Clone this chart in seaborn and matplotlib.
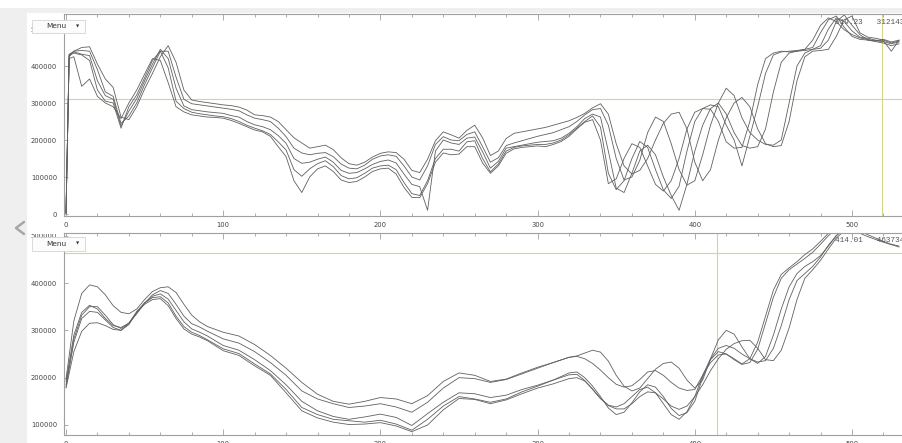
import numpy as np
import pandas as pd
import matplotlib
matplotlib.use("Agg")
import matplotlib.pyplot as plt
import seaborn as sns
from matplotlib.lines import Line2D
from matplotlib.patches import Rectangle
from matplotlib.ticker import MultipleLocator, FuncFormatter

W, H = 902, 443

# sample positions along x
X_TOP = [0, 2] + list(range(5, 535, 5))
X_BOT = list(range(0, 95, 5)) + list(range(100, 330, 10)) + list(range(325, 535, 5))

# top panel series, values in thousands
TOP_1 = [2, 425,
         440, 450, 452, 405, 365, 342, 262, 255, 290, 338,
         380, 425, 455, 410, 335, 308, 304, 301, 298, 295,
         293, 289, 281, 268, 266, 262, 250, 228, 206, 192,
         178, 182, 186, 174, 152, 136, 132, 140, 154, 164,
         168, 166, 148, 118, 112, 148, 198, 222, 214, 205,
         226, 240, 206, 158, 170, 204, 218, 222, 226, 230,
         234, 240, 246, 252, 261, 272, 287, 298, 270, 190,
         130, 108, 118, 150, 200, 245, 270, 275, 230, 140,
         90, 120, 200, 260, 300, 315, 290, 230, 190, 182,
         185, 250, 360, 425, 440, 442, 445, 480, 525, 535,
         490, 478, 475, 470, 462, 468]
TOP_2 = [2, 430,
         440, 442, 440, 390, 330, 318, 245, 265, 300, 350,
         395, 440, 440, 370, 310, 298, 295, 292, 289, 286,
         283, 279, 268, 259, 255, 250, 232, 209, 178, 165,
         160, 164, 166, 155, 135, 124, 122, 132, 148, 157,
         160, 156, 130, 100, 92, 130, 188, 209, 200, 198,
         215, 222, 182, 140, 152, 185, 192, 198, 204, 210,
         215, 220, 228, 236, 250, 268, 282, 285, 240, 150,
         92, 100, 145, 220, 262, 250, 190, 120, 78, 90,
         160, 240, 300, 340, 320, 260, 220, 200, 188, 186,
         200, 300, 400, 435, 445, 448, 470, 520, 538, 510,
         485, 470, 468, 466, 460, 465]
TOP_3 = [2, 432,
         438, 432, 428, 360, 320, 310, 238, 278, 312, 360,
         405, 445, 420, 340, 292, 282, 279, 276, 274, 272,
         266, 262, 250, 241, 236, 228, 212, 191, 150, 137,
         140, 148, 154, 140, 118, 110, 112, 122, 134, 142,
         146, 138, 108, 80, 74, 10, 170, 200, 192, 188,
         205, 208, 168, 124, 142, 178, 182, 186, 190, 194,
         196, 198, 205, 218, 236, 258, 270, 262, 170, 70,
         58, 110, 170, 186, 160, 100, 50, 10, 80, 170,
         240, 285, 300, 270, 220, 185, 178, 182, 230, 330,
         410, 435, 440, 442, 445, 455, 500, 530, 520, 495,
         478, 475, 470, 468, 440, 470]
TOP_4 = [2, 428,
         435, 430, 415, 335, 305, 300, 232, 290, 322, 368,
         415, 440, 395, 305, 285, 275, 271, 268, 265, 263,
         258, 250, 240, 232, 225, 215, 195, 173, 120, 102,
         122, 136, 144, 128, 104, 95, 98, 110, 124, 130,
         132, 120, 85, 55, 50, 90, 150, 175, 175, 170,
         195, 198, 150, 114, 135, 170, 180, 184, 186, 188,
         188, 192, 200, 214, 232, 250, 265, 235, 110, 66,
         90, 150, 196, 180, 120, 65, 42, 75, 170, 250,
         285, 295, 290, 240, 200, 130, 210, 290, 380, 430,
         438, 440, 442, 445, 450, 490, 525, 535, 505, 480,
         472, 470, 466, 462, 455, 460]
TOP_5 = [2, 420,
         425, 345, 365, 318, 300, 290, 258, 300, 335, 378,
         420, 415, 355, 290, 276, 268, 265, 262, 261, 259,
         253, 245, 236, 227, 222, 210, 182, 155, 90, 58,
         100, 122, 130, 115, 92, 85, 88, 100, 115, 122,
         124, 108, 72, 45, 44, 82, 140, 165, 160, 162,
         182, 182, 138, 110, 130, 164, 176, 180, 182, 184,
         182, 188, 196, 210, 230, 248, 255, 200, 82, 95,
         150, 190, 180, 130, 80, 62, 90, 150, 230, 275,
         285, 283, 250, 195, 178, 180, 250, 350, 420, 435,
         440, 438, 440, 445, 470, 510, 530, 520, 498, 485,
         476, 472, 468, 472, 465, 470]

# bottom panel series, values in thousands
BOT_1 = [197, 320, 378, 396, 392, 375, 352, 338, 335, 345, 365, 382, 390, 392, 380, 355, 332, 318, 308,
         296, 288, 270, 247, 220, 190, 165, 150, 144, 150, 158, 155, 145, 162, 192, 210, 205, 192, 197, 210, 222, 232, 243,
         246, 252, 258, 254, 235, 205, 182, 172, 178, 198, 218, 230, 233, 220, 195,
         178, 195, 240, 280, 300, 292, 265, 240, 230, 245, 290, 345, 392, 420, 435,
         445, 458, 478, 500, 515, 525, 530, 532, 530, 526, 520, 514]
BOT_2 = [192, 290, 338, 353, 345, 325, 310, 306, 315, 335, 357, 375, 384, 378, 355, 330, 314, 307, 298,
         282, 273, 255, 232, 205, 172, 155, 145, 137, 140, 145, 138, 127, 148, 178, 200, 198, 190, 196, 208, 220, 232, 243,
         245, 240, 230, 216, 200, 186, 180, 183, 196, 212, 215, 205, 190, 178, 173,
         175, 205, 232, 248, 250, 240, 229, 240, 275, 330, 385, 418, 432, 445, 460,
         472, 488, 505, 515, 518, 512, 505, 498, 492, 486, 481, 476]
BOT_3 = [185, 282, 332, 350, 350, 332, 312, 304, 315, 337, 358, 372, 377, 366, 342, 318, 303, 296, 288,
         268, 258, 238, 215, 185, 150, 130, 118, 112, 117, 123, 116, 99, 124, 148, 168, 166, 158, 163, 175, 184, 195, 210,
         212, 200, 182, 160, 136, 122, 127, 147, 170, 185, 180, 160, 135, 120, 126,
         150, 200, 238, 255, 250, 238, 228, 232, 260, 315, 370, 410, 428, 440, 452,
         465, 482, 500, 515, 528, 535, 538, 538, 535, 530, 525, 520]
BOT_4 = [180, 275, 325, 340, 338, 322, 306, 300, 315, 340, 358, 369, 371, 358, 330, 308, 296, 289, 280,
         261, 251, 229, 208, 175, 137, 122, 112, 109, 106, 110, 102, 89, 112, 140, 160, 155, 148, 155, 170, 182, 195, 206,
         207, 194, 175, 156, 142, 138, 145, 160, 175, 180, 168, 145, 122, 112, 128,
         160, 205, 240, 262, 268, 262, 250, 240, 233, 236, 262, 310, 365, 405, 420,
         435, 455, 480, 500, 515, 528, 535, 538, 536, 532, 528, 522]
BOT_5 = [178, 255, 298, 315, 316, 310, 302, 300, 312, 338, 355, 365, 367, 352, 325, 303, 292, 286, 278,
         257, 247, 225, 205, 168, 130, 115, 106, 101, 102, 105, 98, 86, 100, 132, 156, 154, 145, 153, 166, 178, 187, 198,
         200, 193, 176, 156, 141, 134, 134, 145, 160, 170, 168, 155, 140, 133, 140,
         160, 185, 215, 240, 260, 272, 278, 279, 262, 238, 236, 258, 305, 365, 410,
         428, 448, 472, 495, 510, 515, 510, 502, 495, 488, 482, 478]

CROSS_TOP = (519.23, 312143)
CROSS_BOT = (414.01, 463734)
LABEL_TOP = "519.23   312143"
LABEL_BOT = "414.01   463734"

LINE_COLOR = "#606060"
CROSS_COLOR = "#d6d68a"
AXIS_COLOR = "#a0a0a0"
TEXT_COLOR = "#444444"

sns.set_style("white")
plt.rcParams["font.family"] = ["DejaVu Sans"]

fig = plt.figure(figsize=(W / 100, H / 100), dpi=100)
fig.patch.set_facecolor("white")


def fx(px):
    return px / W


def fy(py):
    return 1 - py / H


def rect(left, top, right, bottom):
    return [fx(left), fy(bottom), (right - left) / W, (bottom - top) / H]


# window chrome behind the plots
fig.add_artist(Rectangle((0, 0), fx(27), fy(8), transform=fig.transFigure,
                         facecolor="#efefef", edgecolor="none", zorder=-5))
fig.add_artist(Rectangle((0, fy(13)), 1, 5 / H, transform=fig.transFigure,
                         facecolor="#efefef", edgecolor="none", zorder=-5))


def draw_panel(ax, x, lines, xlim, ylim, cross):
    df = pd.concat([pd.DataFrame({"x": x, "y": np.asarray(v) * 1000.0, "line": i})
                    for i, v in enumerate(lines)])
    ax.axhline(cross[1], color=CROSS_COLOR, lw=0.8, zorder=1)
    ax.axvline(cross[0], color=CROSS_COLOR, lw=0.8, zorder=1)
    sns.lineplot(data=df, x="x", y="y", units="line", estimator=None, color=LINE_COLOR,
                 linewidth=0.6, legend=False, ax=ax, zorder=2)
    ax.set_xlim(*xlim)
    ax.set_ylim(*ylim)
    ax.set_xlabel("")
    ax.set_ylabel("")
    ax.patch.set_alpha(0)
    ax.xaxis.set_major_locator(MultipleLocator(100))
    ax.xaxis.set_minor_locator(MultipleLocator(20))
    ax.yaxis.set_major_locator(MultipleLocator(100000))
    fmt = FuncFormatter(lambda v, p: f"{v:.0f}")
    ax.xaxis.set_major_formatter(fmt)
    ax.yaxis.set_major_formatter(fmt)
    for side in ["left", "bottom", "top"]:
        ax.spines[side].set_color(AXIS_COLOR)
        ax.spines[side].set_linewidth(0.8)
    ax.spines["right"].set_visible(False)
    ax.tick_params(axis="both", which="both", direction="in", colors=AXIS_COLOR,
                   labelcolor=TEXT_COLOR, labelsize=4.9, width=0.6)
    ax.tick_params(axis="x", which="major", length=4, pad=4.5, top=True, bottom=True)
    ax.tick_params(axis="x", which="minor", length=2.5, top=True, bottom=True)
    ax.tick_params(axis="y", which="major", length=3, pad=5, left=True, right=False)


ax_top = fig.add_axes(rect(64, 14, 912, 216))
ax_bot = fig.add_axes(rect(64, 233, 912, 435))

xlim = ((64 - 66) / 1.572, (912 - 66) / 1.572)
draw_panel(ax_top, X_TOP, [TOP_1, TOP_2, TOP_3, TOP_4, TOP_5], xlim,
           (-2 / 37 * 1e5, 200 / 37 * 1e5), CROSS_TOP)
draw_panel(ax_bot, X_BOT, [BOT_1, BOT_2, BOT_3, BOT_4, BOT_5], xlim,
           (100000 - 10 / 47.33 * 1e5, 400000 + 50 / 47.33 * 1e5), CROSS_BOT)

# coordinate read-outs
fig.text(fx(835), fy(23), LABEL_TOP, family="Liberation Mono", fontsize=5.6,
         color="#555555", va="center", ha="left")
fig.text(fx(835), fy(240), LABEL_BOT, family="Liberation Mono", fontsize=5.6,
         color="#555555", va="center", ha="left")

# strip that cuts the top of the lower panel's first label
fig.add_artist(Rectangle((fx(28), fy(233.5)), 34 / W, 5 / H, transform=fig.transFigure,
                         facecolor="white", edgecolor="none", zorder=8))


def menu_button(top, bottom):
    fig.add_artist(Rectangle((fx(32), fy(bottom)), 53 / W, (bottom - top) / H,
                             transform=fig.transFigure, facecolor="#fcfcfc",
                             edgecolor="#d4d4d4", lw=0.6, zorder=10))
    mid = (top + bottom) / 2
    fig.text(fx(46), fy(mid), "Menu", fontsize=5.3, color="#333333",
             va="center", ha="left", zorder=11)
    fig.text(fx(77.5), fy(mid - 0.5), "\u25bc", fontsize=3, color="#333333",
             va="center", ha="center", zorder=11)


menu_button(20, 33)
menu_button(237, 251)

# side arrow
fig.add_artist(Line2D([fx(24), fx(16), fx(24)], [fy(222), fy(228), fy(234)],
                      transform=fig.transFigure, color="#a8a8a8", lw=1.8, zorder=10))

fig.savefig("out.png", dpi=100)
